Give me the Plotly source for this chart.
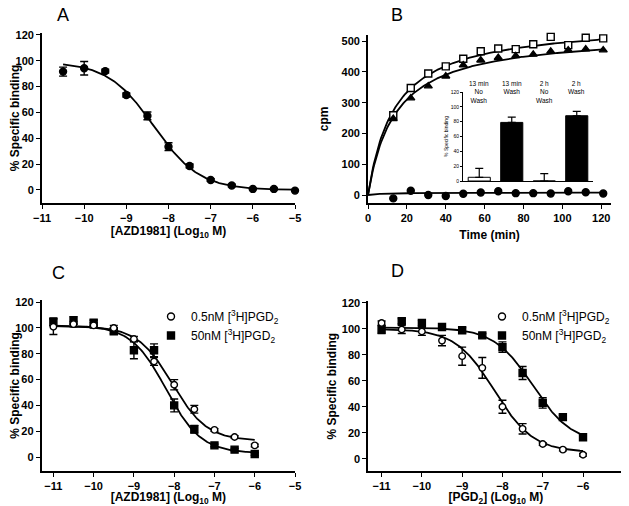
import numpy as np
import plotly.graph_objects as go

FONT = "Liberation Sans, Arial, sans-serif"
# page body has an 8px margin; the figure is sized/positioned to compensate
OFF = 8
W, H = 629 - OFF, 506 - OFF

# ---------------- Panel A data ----------------
a_logx = [-10.5, -10, -9.5, -9, -8.5, -8, -7.5, -7, -6.5, -6, -5.5, -5]
a_bind = [91.6, 94.2, 92.0, 73.5, 57.3, 33.5, 18.6, 7.7, 3.4, 0.8, 0.8, -0.5]
a_err = [3.5, 5.2, 1.5, 1.5, 3.0, 3.0, 1.5, 1.0, 1.0, 0.5, 0.5, 0.5]
a_fit = [99.0, 0.0, -8.35, 0.8]  # top, bottom, logIC50, hill

# ---------------- Panel B data ----------------
b_time = [13, 22, 31, 40, 49, 58, 67, 76, 85, 94, 103, 112, 121]
b_square = [259, 348, 395, 418, 443, 467, 476, 474, 490, 514, 487, 511, 509]
b_triangle = [248, 315, 354, 386, 422, 438, 446, 452, 457, 467, 471, 474, 471]
b_circle = [-11, 14, 0, -3, 4, 8, 12, 6, 6, 5, 12, 9, 5]
b_fit_square = [563, 13.7]   # Bmax, K (hyperbola)
b_fit_triangle = [528, 14.0]
b_fit_circle = [8, 8.0]

# ---------------- Inset data ----------------
inset_cats = ["13 min<br>No<br>Wash", "13 min<br>Wash", "2 h<br>No<br>Wash", "2 h<br>Wash"]
inset_vals = [5, 79, 0, 88]
inset_err = [12, 7, 10, 6]
inset_fill = ["white", "black", "white", "black"]

# ---------------- Panel C data ----------------
c_logx = [-11, -10.5, -10, -9.5, -9, -8.5, -8, -7.5, -7, -6.5, -6]
c_low = [101, 103, 102, 100, 91.5, 74, 56, 37, 21, 15.5, 9]
c_low_err = [6, 2, 2, 2, 2, 3, 4, 3, 1, 1, 1]
c_high = [104.7, 105.8, 104, 97.5, 82.7, 82.7, 40, 21.5, 9, 5.7, 2.3]
c_high_err = [3, 3, 2, 2, 6.5, 5, 5, 3, 1, 1, 1]
c_fit_low = [101.5, 12.5, -8.05, 1.0]
c_fit_high = [102.0, 3.0, -8.2, 1.0]

# ---------------- Panel D data ----------------
d_logx = [-11, -10.5, -10, -9.5, -9, -8.5, -8, -7.5, -7, -6.5, -6]
d_low = [104.6, 99.5, 98, 91, 79, 70, 40, 23, 11.3, 7, 3]
d_low_err = [1.5, 3, 3, 4, 7, 8, 5, 4, 1, 1, 1]
d_high = [99.5, 106, 104.6, 101.5, 99, 95, 86, 66, 43, 32, 16.5]
d_high_err = [3, 2, 2, 1.5, 2, 1.5, 4, 5, 4, 1.5, 1.5]
d_fit_low = [100.0, 5.0, -8.2, 0.9]
d_fit_high = [101.0, 12.0, -7.25, 0.9]

legend_labels = ["0.5nM [<sup>3</sup>H]PGD<sub>2</sub>", "50nM [<sup>3</sup>H]PGD<sub>2</sub>"]


def logistic(x, p):
    top, bottom, logic50, hill = p
    return bottom + (top - bottom) / (1 + 10 ** ((x - logic50) * hill))


def hyperbola(t, p):
    bmax, k = p
    return bmax * t / (k + t)


def fx(p):
    return (p - OFF) / W


def fy(p):
    return 1 - (p - OFF) / H


def px_x(a, b):
    return [fx(a), fx(b)]


def px_y(top, bottom):
    return [fy(bottom), fy(top)]


fig = go.Figure()

err_style = dict(type="data", visible=True, color="black", thickness=1.4, width=4)


def add_points(x, y, err, symbol, fill, xa, ya, size=7):
    kw = dict(x=x, y=y, mode="markers", xaxis=xa, yaxis=ya, cliponaxis=False,
              marker=dict(symbol=symbol, size=size, color=fill,
                          line=dict(color="black", width=1.4)),
              showlegend=False)
    if err is not None:
        kw["error_y"] = dict(array=err, **err_style)
    fig.add_trace(go.Scatter(**kw))


def add_curve(x, y, xa, ya):
    fig.add_trace(go.Scatter(x=x, y=y, mode="lines", xaxis=xa, yaxis=ya,
                             line=dict(color="black", width=1.8), showlegend=False,
                             hoverinfo="skip"))


def add_legend_entry(symbol, fill, name, xa, ya, legend):
    fig.add_trace(go.Scatter(x=[None], y=[None], mode="markers", xaxis=xa, yaxis=ya,
                             marker=dict(symbol=symbol, size=7, color=fill,
                                         line=dict(color="black", width=1.4)),
                             name=name, legend=legend, showlegend=True))


# Panel A
xa_fit = np.linspace(min(a_logx), max(a_logx), 200)
add_curve(xa_fit, logistic(xa_fit, a_fit), "x", "y")
add_points(a_logx, a_bind, a_err, "circle", "black", "x", "y")

# Panel B
tb = np.linspace(0, 121, 200)
add_curve(tb, hyperbola(tb, b_fit_square), "x2", "y2")
add_curve(tb, hyperbola(tb, b_fit_triangle), "x2", "y2")
add_curve(tb, hyperbola(tb, b_fit_circle), "x2", "y2")
add_points(b_time, b_square, None, "square", "white", "x2", "y2", size=7)
add_points(b_time, b_triangle, None, "triangle-up", "black", "x2", "y2", size=7)
add_points(b_time, b_circle, None, "circle", "black", "x2", "y2", size=7)

# Inset bars
fig.add_trace(go.Bar(x=list(range(len(inset_vals))), y=inset_vals, xaxis="x3", yaxis="y3",
                     marker=dict(color=inset_fill, line=dict(color="black", width=1)),
                     width=0.68, showlegend=False,
                     error_y=dict(type="data", symmetric=False, array=inset_err,
                                  arrayminus=[0] * len(inset_err), color="black",
                                  thickness=1.2, width=4)))

# Panel C
xc_fit = np.linspace(-11, -6, 200)
add_curve(xc_fit, logistic(xc_fit, c_fit_low), "x4", "y4")
add_curve(xc_fit, logistic(xc_fit, c_fit_high), "x4", "y4")
add_points(c_logx, c_high, c_high_err, "square", "black", "x4", "y4")
add_points(c_logx, c_low, c_low_err, "circle", "white", "x4", "y4", size=6.5)
add_legend_entry("circle", "white", legend_labels[0], "x4", "y4", "legend")
add_legend_entry("square", "black", legend_labels[1], "x4", "y4", "legend")

# Panel D
xd_fit = np.linspace(-11, -6, 200)
add_curve(xd_fit, logistic(xd_fit, d_fit_low), "x5", "y5")
add_curve(xd_fit, logistic(xd_fit, d_fit_high), "x5", "y5")
add_points(d_logx, d_high, d_high_err, "square", "black", "x5", "y5")
add_points(d_logx, d_low, d_low_err, "circle", "white", "x5", "y5", size=6.5)
add_legend_entry("circle", "white", legend_labels[0], "x5", "y5", "legend2")
add_legend_entry("square", "black", legend_labels[1], "x5", "y5", "legend2")

tickfont = dict(family=FONT, size=11, color="black", weight="bold")
titlefont = dict(family=FONT, size=12, color="black", weight="bold")


def axis(domain, rng, dtick, tick0=0, title=None, standoff=2, tf=tickfont, lw=1.8, tl=4):
    d = dict(domain=domain, range=rng, dtick=dtick, tick0=tick0, showline=True,
             linecolor="black", linewidth=lw, ticks="outside", ticklen=tl, tickwidth=1.4,
             tickcolor="black", showgrid=False, zeroline=False, tickfont=tf,
             automargin=False, fixedrange=True)
    if title:
        d["title"] = dict(text=title, font=titlefont, standoff=standoff)
    return d


conc_title = "[AZD1981] (Log<sub>10</sub> M)"
ylab = "% Specific binding"
legend_font = dict(family=FONT, size=12, color="black")

fig.update_layout(
    width=W, height=H, margin=dict(l=0, r=0, t=0, b=0),
    paper_bgcolor="white", plot_bgcolor="white",
    font=dict(family=FONT, color="black"),
    xaxis=dict(axis(px_x(42, 295), [-11, -5], 1, title=conc_title, standoff=3), anchor="y"),
    yaxis=dict(axis(px_y(33, 203), [-10.1, 121.5], 20, title=ylab, standoff=3), anchor="x"),
    xaxis2=dict(axis(px_x(368, 611), [0, 125], 20, title="Time (min)", standoff=8), anchor="y2"),
    yaxis2=dict(axis(px_y(35, 202.7), [-25, 520], 100, title="cpm", standoff=10), anchor="x2"),
    xaxis3=dict(axis(px_x(463, 593), [-0.5, 3.5], 1, lw=1, tl=0), anchor="y3",
                showticklabels=False, ticks=""),
    yaxis3=dict(axis(px_y(92, 181), [0, 120], 20,
                     tf=dict(family=FONT, size=5, color="black"), lw=1, tl=2),
                anchor="x3",
                title=dict(text=ylab, font=dict(family=FONT, size=5, color="black"), standoff=1)),
    xaxis4=dict(axis(px_x(41.7, 295), [-11.29, -5], 1, title=conc_title, standoff=2), anchor="y4"),
    yaxis4=dict(axis(px_y(299.6, 471.2), [-11, 122], 20, title=ylab, standoff=3), anchor="x4"),
    xaxis5=dict(axis(px_x(368.3, 623.3), [-11.33, -5], 1,
                     title="[PGD<sub>2</sub>] (Log<sub>10</sub> M)", standoff=2), anchor="y5"),
    yaxis5=dict(axis(px_y(301, 471.3), [-9.7, 121.5], 20, title=ylab, standoff=3), anchor="x5"),
    legend=dict(x=fx(151), y=fy(302), xanchor="left", yanchor="top",
                bgcolor="rgba(0,0,0,0)", font=legend_font, itemwidth=30, tracegroupgap=0),
    legend2=dict(x=fx(482), y=fy(302), xanchor="left", yanchor="top",
                 bgcolor="rgba(0,0,0,0)", font=legend_font, itemwidth=30, tracegroupgap=0),
    bargap=0.32,
)

annotations = []
for letter, x, y in [("A", 63, 15), ("B", 397, 15), ("C", 58, 273), ("D", 397, 271)]:
    annotations.append(dict(text=letter, x=fx(x), y=fy(y), xref="paper", yref="paper",
                            xanchor="center", yanchor="middle", showarrow=False,
                            font=dict(family=FONT, size=18, color="black")))
for i, lab in enumerate(inset_cats):
    annotations.append(dict(text=lab, x=i, y=fy(78), xref="x3", yref="paper",
                            xanchor="center", yanchor="top", showarrow=False,
                            font=dict(family=FONT, size=6.5, color="black")))
fig.update_layout(annotations=annotations)

fig.write_html("out.html")
